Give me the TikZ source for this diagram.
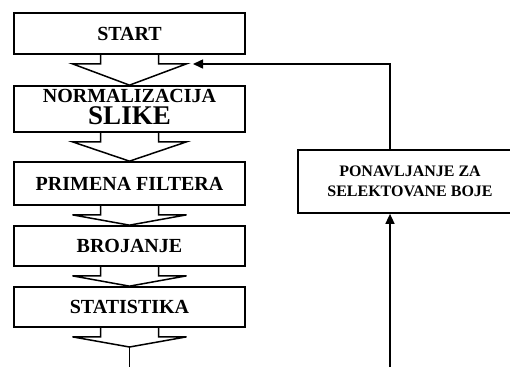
\documentclass[tikz,border=0pt]{standalone}
\usepackage{fontspec}
\setmainfont{Liberation Serif}
\usetikzlibrary{calc,arrows.meta}
\tikzset{
  box/.style={draw, line width=1.7pt, inner sep=0pt, minimum width=231pt, font=\bfseries\fontsize{20}{22}\selectfont, align=center},
  repbox/.style={draw, line width=1.7pt, inner sep=0pt, minimum width=224pt, minimum height=63pt, font=\bfseries\fontsize{16}{20}\selectfont, align=center},
  blk/.style={line width=1.5pt, line join=miter},
  conn/.style={line width=1.5pt, -{Triangle[length=10pt,width=9pt]}}
}
\newcommand\blockarrow[2]{%
  \draw[blk] ($(#1.south)+(-29,0)$) -- ++(0,9) -- ++(-28,0) -- (#2) -- ($(#1.south)+(57,9)$) -- ++(-28,0) -- ++(0,-9);}
\begin{document}
\begin{tikzpicture}[x=1pt,y=-1pt]
\useasboundingbox (0,0) rectangle (510,367);
\node[box, minimum height=46pt] (norm) at (129.5,109) {NORMALIZACIJA\\{\fontsize{27}{24}\selectfont SLIKE\rule[-5pt]{0pt}{0pt}}};
\node[box, minimum height=41pt] (start) at (129.5,33.5) {START};
\node[box, minimum height=43pt] (prim) at (129.5,183.5) {PRIMENA FILTERA};
\node[box, minimum height=40pt] (broj) at (129.5,246) {BROJANJE};
\node[box, minimum height=40pt] (stat) at (129.5,307) {STATISTIKA};
\node[repbox] (rep) at (410,181.5) {PONAVLJANJE ZA\\SELEKTOVANE BOJE};
\coordinate (tip) at (129.5,347);
\coordinate (bot) at (129.5,367);
\coordinate (fbin) at (390,367);
\coordinate (fbup) at (390,64);
\coordinate (fbend) at (193,64);
\blockarrow{start}{norm.north}
\blockarrow{norm}{prim.north}
\blockarrow{prim}{broj.north}
\blockarrow{broj}{stat.north}
\blockarrow{stat}{tip}
\draw[blk] (tip) -- (bot);
\draw[conn] (fbin) -- (fbin |- rep.south);
\draw[conn] (fbup |- rep.north) -- (fbup) -- (fbend);
\end{tikzpicture}
\end{document}
